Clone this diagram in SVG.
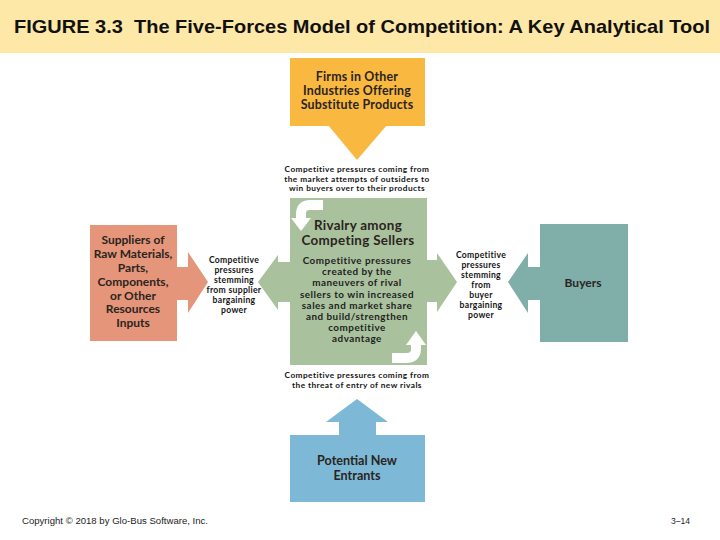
<svg xmlns="http://www.w3.org/2000/svg" width="720" height="540" viewBox="0 0 720 540">
<style>
.box{font-family:Lato,"Liberation Sans",sans-serif;font-weight:700;fill:#2a2420;text-anchor:middle}
.lbl{font-family:Lato,"Liberation Sans",sans-serif;font-weight:700;fill:#141414;text-anchor:middle;font-size:8.3px;letter-spacing:0.42px}
.side{font-family:Lato,"Liberation Sans",sans-serif;font-weight:700;fill:#141414;text-anchor:middle;font-size:8.6px;letter-spacing:0.3px}
.body{font-family:Lato,"Liberation Sans",sans-serif;font-weight:700;fill:#1e1e1e;text-anchor:middle;font-size:9.9px;letter-spacing:0.5px}
.foot{font-family:"Liberation Sans",sans-serif;fill:#222;font-size:8.5px}
</style>
<rect x="0" y="0" width="720" height="540" fill="#ffffff"/>
<g id="title">
<rect x="0" y="0" width="720" height="53" fill="#FEE8A8"/>
<text x="14" y="33" font-family="'Liberation Sans',sans-serif" font-weight="700" font-size="19" fill="#111" textLength="696" lengthAdjust="spacingAndGlyphs" xml:space="preserve">FIGURE 3.3  The Five-Forces Model of Competition: A Key Analytical Tool</text>
</g>
<g id="connectors">
<polygon points="328,125 387,125 357,160" fill="#F9B840"/>
<polygon points="177,267 188,267 188,252 208,282 188,313 188,300 177,300" fill="#E5957A"/>
<polygon points="290,262 278,262 278,255 258,282 278,310 278,302 290,302" fill="#A9C19D"/>
<polygon points="425,260 437,260 437,253 457,282 437,312 437,302 425,302" fill="#A9C19D"/>
<polygon points="540,267 528,267 528,253 508,282 528,313 528,300 540,300" fill="#80AEA9"/>
<polygon points="339,435 339,422 326,422 357,399 388,422 376,422 376,435" fill="#7DB9D6"/>
</g>
<g id="substitutes">
<rect x="290" y="58" width="135" height="68" fill="#F9B840"/>
<text class="box" font-size="12.4" letter-spacing="0.2" x="357" y="81">Firms in Other</text>
<text class="box" font-size="12.4" letter-spacing="0.2" x="357" y="95">Industries Offering</text>
<text class="box" font-size="12.4" letter-spacing="0.2" x="357" y="109">Substitute Products</text>
</g>
<g id="label-substitutes">
<text class="lbl" x="357" y="172">Competitive pressures coming from</text>
<text class="lbl" x="357" y="181.5">the market attempts of outsiders to</text>
<text class="lbl" x="357" y="191">win buyers over to their products</text>
</g>
<g id="rivalry">
<rect x="290" y="198" width="137" height="167" fill="#A9C19D"/>
<path d="M323 205 L310 205 Q301 205 301 214 L301 219" fill="none" stroke="#fff" stroke-width="10"/>
<polygon points="291,218 311,218 301,231" fill="#fff"/>
<path d="M392 358 L406 358 Q416 358 416 349 L416 344" fill="none" stroke="#fff" stroke-width="10"/>
<polygon points="406,345 426,345 416,331" fill="#fff"/>
<text class="box" font-size="13.4" letter-spacing="0.3" x="358" y="230">Rivalry among</text>
<text class="box" font-size="13.4" letter-spacing="0.3" x="358" y="245">Competing Sellers</text>
<text class="body" x="357" y="264">Competitive pressures</text>
<text class="body" x="357" y="275">created by the</text>
<text class="body" x="357" y="286">maneuvers of rival</text>
<text class="body" x="357" y="298">sellers to win increased</text>
<text class="body" x="357" y="309">sales and market share</text>
<text class="body" x="357" y="320">and build/strengthen</text>
<text class="body" x="357" y="331">competitive</text>
<text class="body" x="357" y="342">advantage</text>
</g>
<g id="suppliers">
<rect x="90" y="225" width="87" height="116" fill="#E5957A"/>
<text class="box" font-size="12" x="133" y="244">Suppliers of</text>
<text class="box" font-size="12" x="133" y="258">Raw Materials,</text>
<text class="box" font-size="12" x="133" y="272">Parts,</text>
<text class="box" font-size="12" x="133" y="285.5">Components,</text>
<text class="box" font-size="12" x="133" y="299.5">or Other</text>
<text class="box" font-size="12" x="133" y="313">Resources</text>
<text class="box" font-size="12" x="133" y="327">Inputs</text>
</g>
<g id="label-suppliers">
<text class="side" x="234" y="263">Competitive</text>
<text class="side" x="234" y="273">pressures</text>
<text class="side" x="234" y="283">stemming</text>
<text class="side" x="234" y="293">from supplier</text>
<text class="side" x="234" y="303">bargaining</text>
<text class="side" x="234" y="313">power</text>
</g>
<g id="label-buyers">
<text class="side" x="481" y="258">Competitive</text>
<text class="side" x="481" y="268">pressures</text>
<text class="side" x="481" y="278">stemming</text>
<text class="side" x="481" y="288">from</text>
<text class="side" x="481" y="298">buyer</text>
<text class="side" x="481" y="308">bargaining</text>
<text class="side" x="481" y="318">power</text>
</g>
<g id="buyers">
<rect x="540" y="224" width="88" height="118" fill="#80AEA9"/>
<text class="box" font-size="12" x="583" y="287">Buyers</text>
</g>
<g id="label-entrants">
<text class="lbl" x="357" y="378">Competitive pressures coming from</text>
<text class="lbl" x="357" y="388">the threat of entry of new rivals</text>
</g>
<g id="entrants">
<rect x="290" y="435" width="135" height="67" fill="#7DB9D6"/>
<text class="box" font-size="12.6" x="357" y="465">Potential New</text>
<text class="box" font-size="12.6" x="357" y="480">Entrants</text>
</g>
<g id="footer">
<text class="foot" x="22" y="524" textLength="186" lengthAdjust="spacingAndGlyphs">Copyright © 2018 by Glo-Bus Software, Inc.</text>
<text class="foot" x="671" y="524" textLength="19" lengthAdjust="spacingAndGlyphs">3–14</text>
</g>
</svg>
